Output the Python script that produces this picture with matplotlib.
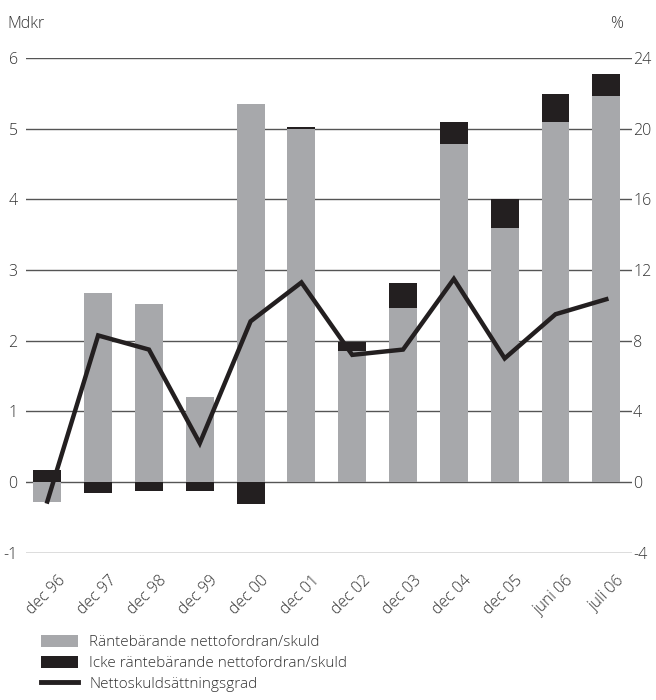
import numpy as np
import matplotlib
matplotlib.use('Agg')
import matplotlib.pyplot as plt
import matplotlib.transforms as mtransforms
from matplotlib.patches import Patch
from matplotlib.lines import Line2D

plt.rcParams['font.family'] = ['Open Sans', 'DejaVu Sans']
plt.rcParams['font.weight'] = 'light'
plt.rcParams['axes.unicode_minus'] = False

labels = ['dec 96', 'dec 97', 'dec 98', 'dec 99', 'dec 00', 'dec 01',
          'dec 02', 'dec 03', 'dec 04', 'dec 05', 'juni 06', 'juli 06']
# Mdkr
rantebarande = [-0.28, 2.68, 2.52, 1.21, 5.35, 5.00, 1.86, 2.46, 4.79, 3.60, 5.09, 5.47]
icke_rantebarande = [0.17, -0.155, -0.12, -0.12, -0.315, 0.02, 0.12, 0.36, 0.30, 0.40, 0.40, 0.31]
# %
skuldsattningsgrad = [-1.1, 8.3, 7.5, 2.2, 9.1, 11.3, 7.2, 7.5, 11.5, 7.0, 9.5, 10.35]

grey = '#a7a8ab'
black = '#231f20'
txt = '#333333'

x = np.arange(len(labels))
grey_v = np.array(rantebarande)
black_v = np.array(icke_rantebarande)
# black part stacked on grey when same sign, otherwise from zero
black_base = np.where(np.sign(black_v) == np.sign(grey_v), grey_v, 0)

fig = plt.figure(figsize=(6.56, 7), dpi=100)
ax = fig.add_axes([0.0396, 0.2104, 0.9234, 0.7066])
ax2 = ax.twinx()

ax.set_ylim(-1, 6)
ax2.set_ylim(-4, 24)
ax.set_xlim(-0.42, 11.5)

for v in range(-1, 7):
    ax.axhline(v, color='#555555', lw=1.0, zorder=0)

ax.bar(x, grey_v, width=0.55, color=grey, zorder=2)
ax.bar(x, black_v, bottom=black_base, width=0.55, color=black, zorder=2)

ax2.plot(x, skuldsattningsgrad, color=black, lw=3.2, solid_joinstyle='miter', zorder=3)

for a in (ax, ax2):
    for s in a.spines.values():
        s.set_visible(False)
    a.tick_params(length=0, labelsize=11.5, colors=txt)

ax.set_yticks(range(-1, 7))
ax.tick_params(axis='y', pad=6)
ax2.set_yticks(range(-4, 25, 4))
ax2.tick_params(axis='y', pad=1)

ax.set_xticks(x)
ax.set_xticklabels(labels, rotation=45, ha='right', rotation_mode='anchor')
ax.tick_params(axis='x', pad=10)
offset = mtransforms.ScaledTranslation(0.10, -0.06, fig.dpi_scale_trans)
for lab in ax.get_xticklabels():
    lab.set_transform(lab.get_transform() + offset)

fig.text(0.012, 0.966, 'Mdkr', fontsize=11.5, color=txt, va='center')
fig.text(0.93, 0.966, '%', fontsize=11.5, color=txt, va='center')

handles = [Patch(facecolor=grey, edgecolor='none'),
           Patch(facecolor=black, edgecolor='none'),
           Line2D([0], [0], color=black, lw=3.5)]
leg_labels = ['Räntebärande nettofordran/skuld',
              'Icke räntebärande nettofordran/skuld',
              'Nettoskuldsättningsgrad']
fig.legend(handles, leg_labels, loc='upper left', bbox_to_anchor=(0.063, 0.093),
           frameon=False, fontsize=11, handlelength=2.4, handleheight=0.85,
           handletextpad=0.75, labelspacing=0.35, borderaxespad=0, borderpad=0,
           labelcolor=txt)

fig.savefig('out.png', dpi=100)
